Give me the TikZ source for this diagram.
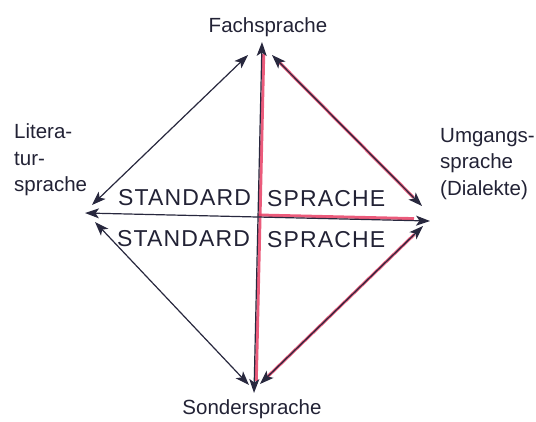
\documentclass[tikz,border=0pt]{standalone}
\usepackage{fontspec}
\setmainfont{Liberation Sans}
\usetikzlibrary{arrows.meta}
\definecolor{ink}{RGB}{40,40,62}
\definecolor{redl}{RGB}{232,62,100}
\begin{document}
\begin{tikzpicture}[x=1pt,y=-1pt,
  tipS/.tip={Stealth[length=14pt,width=10pt,inset=3.5pt]},
  conn/.style={draw=ink, line width=1.2pt, tipS-tipS},
  redband/.style={draw=redl, line width=3pt, opacity=0.85},
  lbl/.style={font=\fontsize{20.5}{26.5}\selectfont, text=ink!85!black, inner sep=0pt},
  std/.style={font=\fontsize{23}{28}\selectfont\addfontfeature{LetterSpace=5}, text=ink!85!black, inner sep=0pt, anchor=base west}]
\useasboundingbox (0,0) rectangle (536,421);

% end points
\coordinate (T) at (262,42);
\coordinate (B) at (254,393);
\coordinate (L) at (85,213);
\coordinate (R) at (430,221);
\coordinate (C) at (258,217);
\coordinate (tlL) at (92,205);  \coordinate (tlT) at (248,55);
\coordinate (trT) at (272,55);  \coordinate (trR) at (422,206);
\coordinate (blL) at (95,222);  \coordinate (blB) at (249,385);
\coordinate (brR) at (423,226); \coordinate (brB) at (260,384);

% red bands
\draw[redband, shorten <=12pt, shorten >=12pt] ([xshift=2pt]T) -- ([xshift=2pt]B);
\draw[redband, shorten >=16pt] ([yshift=2pt]C) -- ([yshift=2pt]R);
\draw[redband, shorten <=10pt, shorten >=12pt] (trT) -- (trR);
\draw[redband, shorten <=12pt, shorten >=10pt] (brR) -- (brB);

% connectors
\draw[conn] (T) -- (B);
\draw[conn] (L) -- (R);
\draw[conn] (tlL) -- (tlT);
\draw[conn] (trT) -- (trR);
\draw[conn] (blL) -- (blB);
\draw[conn] (brR) -- (brB);

% labels
\node[lbl, anchor=base] (fach) at (268,32) {Fachsprache};
\node[lbl, anchor=base] (sonder) at (252,414) {Sondersprache};
\node[lbl, anchor=base west, align=left] (lit) at (14,191.5) {Litera-\\tur-\\sprache};
\node[lbl, anchor=base west, align=left] (umg) at (440,195) {Umgangs-\\sprache\\(Dialekte)};

\node[std] (s1) at (118,205) {STANDARD};
\node[std] (s2) at (267,206) {SPRACHE};
\node[std] (s3) at (117,246) {STANDARD};
\node[std] (s4) at (267,247) {SPRACHE};
\end{tikzpicture}
\end{document}
